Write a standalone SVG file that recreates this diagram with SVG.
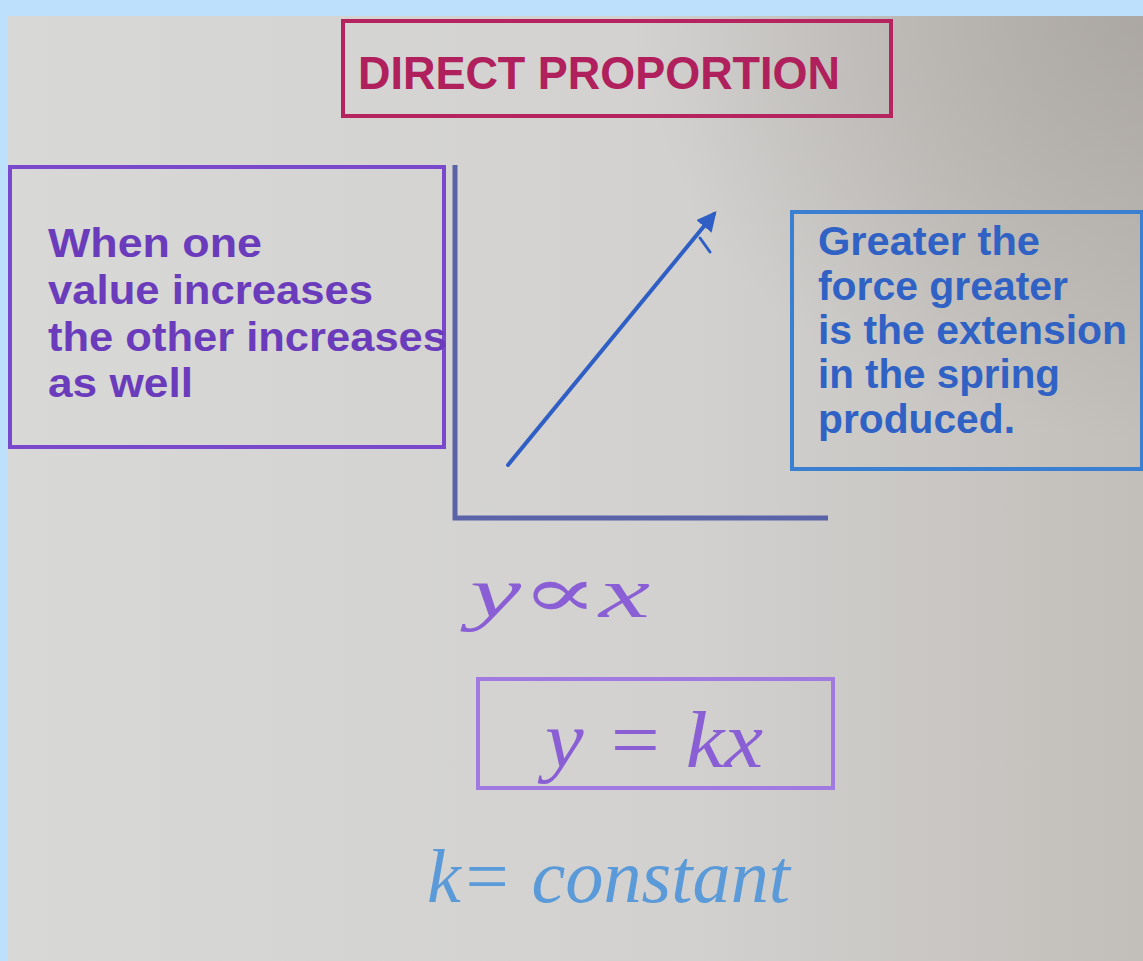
<svg xmlns="http://www.w3.org/2000/svg" width="1143" height="961" viewBox="0 0 1143 961">
<defs>
<linearGradient id="scr" x1="0" y1="0" x2="1" y2="0">
<stop offset="0" stop-color="#d8d8d6"/>
<stop offset="0.6" stop-color="#d2d1cf"/>
<stop offset="1" stop-color="#c2beba"/>
</linearGradient>
<radialGradient id="shade" cx="1" cy="0" r="0.45">
<stop offset="0" stop-color="#8f8a84" stop-opacity="0.45"/>
<stop offset="1" stop-color="#8f8a84" stop-opacity="0"/>
</radialGradient>
<marker id="ah" viewBox="0 0 10 10" refX="8" refY="5" markerWidth="5" markerHeight="5" orient="auto">
<path d="M0,0 L10,5 L0,10 z" fill="#2f5fc4"/>
</marker>
<style>
.typed{font-family:"Liberation Sans",Arial,sans-serif;font-weight:bold;font-size:40px}
.hand{font-family:"Liberation Serif","DejaVu Serif",serif;font-style:italic}
</style>
</defs>
<rect width="1143" height="961" fill="#bde0fc"/>
<rect x="8" y="16" width="1135" height="945" fill="url(#scr)"/>
<rect x="8" y="16" width="1135" height="945" fill="url(#shade)"/>

<g id="title">
<rect x="343" y="21" width="548" height="95" fill="none" stroke="#b5245f" stroke-width="4"/>
<text x="358" y="89" font-family="'Liberation Sans',Arial,sans-serif" font-weight="bold" font-size="46" fill="#b0205c" textLength="482" lengthAdjust="spacingAndGlyphs">DIRECT PROPORTION</text>
</g>

<g id="box-left">
<rect x="10" y="167" width="434" height="280" fill="none" stroke="#7a48cc" stroke-width="4"/>
<g class="typed" fill="#6a3cbc">
<text x="48" y="257" textLength="214" lengthAdjust="spacingAndGlyphs">When one</text>
<text x="48" y="304" textLength="325" lengthAdjust="spacingAndGlyphs">value increases</text>
<text x="48" y="351" textLength="399" lengthAdjust="spacingAndGlyphs">the other increases</text>
<text x="48" y="397" textLength="145" lengthAdjust="spacingAndGlyphs">as well</text>
</g>
</g>

<g id="graph">
<path d="M455,165 L455,518 L828,518" fill="none" stroke="#5a62a8" stroke-width="5"/>
</g>

<g id="connectors">
<path d="M508,465 L714,214" fill="none" stroke="#2f5fc4" stroke-width="4" stroke-linecap="round" marker-end="url(#ah)"/>
<path d="M700,238 L710,252" fill="none" stroke="#2f5fc4" stroke-width="3" stroke-linecap="round"/>
</g>

<g id="box-right">
<rect x="792" y="212" width="350" height="257" fill="none" stroke="#3a7fd0" stroke-width="4"/>
<g class="typed" fill="#2f62c4">
<text x="818" y="255" textLength="222" lengthAdjust="spacingAndGlyphs">Greater the</text>
<text x="818" y="300" textLength="250" lengthAdjust="spacingAndGlyphs">force greater</text>
<text x="818" y="344" textLength="309" lengthAdjust="spacingAndGlyphs">is the extension</text>
<text x="818" y="388" textLength="242" lengthAdjust="spacingAndGlyphs">in the spring</text>
<text x="818" y="433" textLength="197" lengthAdjust="spacingAndGlyphs">produced.</text>
</g>
</g>

<g id="eq-prop">
<text class="hand" x="470" y="617" font-size="72" fill="#8a5ed4" textLength="180" lengthAdjust="spacingAndGlyphs">y∝x</text>
</g>

<g id="eq-box">
<rect x="478" y="679" width="355" height="109" fill="none" stroke="#a07ae0" stroke-width="4"/>
<text class="hand" x="545" y="767" font-size="80" fill="#8a5ed4" textLength="218" lengthAdjust="spacingAndGlyphs">y = kx</text>
</g>

<g id="eq-const">
<text class="hand" x="427" y="902" font-size="76" fill="#5a9ad8" textLength="363" lengthAdjust="spacingAndGlyphs">k= constant</text>
</g>
</svg>
